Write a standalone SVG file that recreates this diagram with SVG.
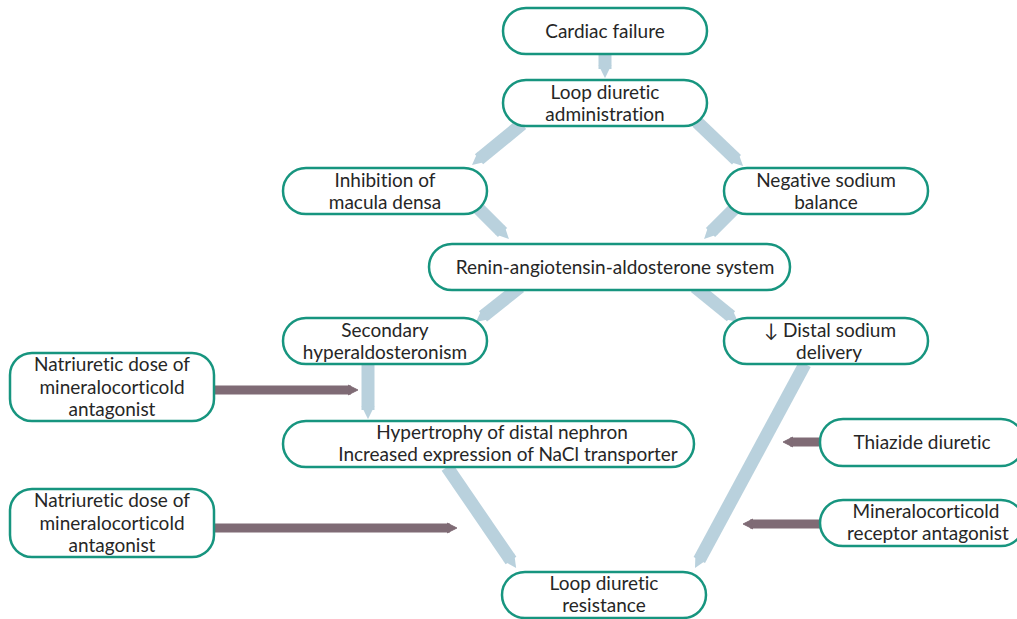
<svg xmlns="http://www.w3.org/2000/svg" width="1017" height="619" viewBox="0 0 1017 619">
<style>
.n rect{fill:#fff;stroke:#17957f;stroke-width:2.5}
.n text{font-family:Lato,"Open Sans",sans-serif;font-size:19px;fill:#262626;text-anchor:middle;font-variant-ligatures:none}
.b{stroke:#b9d1dd;stroke-width:13;fill:none;marker-end:url(#hb)}
.m{stroke:#7f6b75;stroke-width:9;fill:none;marker-end:url(#hm)}
</style>
<defs>
<marker id="hb" viewBox="0 0 10 10" refX="3" refY="5" markerWidth="1.0" markerHeight="2.3" orient="auto" markerUnits="strokeWidth"><path d="M0,0 L10,5 L0,10 z" fill="#b9d1dd"/></marker>
<marker id="hm" viewBox="0 0 10 10" refX="3" refY="5" markerWidth="1.1" markerHeight="1.8" orient="auto" markerUnits="strokeWidth"><path d="M0,0 L10,5 L0,10 L1,5 z" fill="#7f6b75" stroke="#7f6b75" stroke-width="1" stroke-linejoin="round"/></marker>
</defs>
<g id="connectors">
<line class="b" x1="605" y1="55" x2="605" y2="69"/>
<line class="b" x1="522" y1="124" x2="479" y2="159.3"/>
<line class="b" x1="697" y1="122" x2="736.5" y2="159.8"/>
<line class="b" x1="475" y1="205" x2="502.5" y2="232.5"/>
<line class="b" x1="738" y1="205" x2="710.5" y2="232.5"/>
<line class="b" x1="520" y1="287" x2="483" y2="316.4"/>
<line class="b" x1="695" y1="287" x2="731" y2="316.3"/>
<line class="b" x1="368" y1="364" x2="368" y2="410"/>
<line class="b" x1="447" y1="467" x2="511" y2="560.5"/>
<line class="b" x1="805" y1="364" x2="699.3" y2="560"/>
<line class="m" x1="214" y1="390" x2="351" y2="390"/>
<line class="m" x1="214" y1="528" x2="450" y2="528"/>
<line class="m" x1="820" y1="442" x2="790" y2="442"/>
<line class="m" x1="820" y1="524" x2="750" y2="524"/>
</g>
<g id="cardiac" class="n"><rect x="503" y="8" width="204" height="46" rx="23"/><text x="605" y="38">Cardiac failure</text></g>
<g id="loop" class="n"><rect x="503" y="80" width="204" height="46" rx="23"/><text x="605" y="99">Loop diuretic</text><text x="605" y="121">administration</text></g>
<g id="inhibition" class="n"><rect x="283" y="168" width="204" height="46" rx="23"/><text x="385" y="187">Inhibition of</text><text x="385" y="209">macula densa</text></g>
<g id="negative" class="n"><rect x="724" y="168" width="204" height="46" rx="23"/><text x="826" y="187">Negative sodium</text><text x="826" y="209">balance</text></g>
<g id="raas" class="n"><rect x="429" y="244" width="361" height="46" rx="23"/><text x="615" y="274">Renin-angiotensin-aldosterone system</text></g>
<g id="secondary" class="n"><rect x="283" y="318" width="204" height="46" rx="23"/><text x="385" y="337">Secondary</text><text x="385" y="359">hyperaldosteronism</text></g>
<g id="distal" class="n"><rect x="724" y="318" width="204" height="46" rx="23"/><text x="830" y="337">↓ Distal sodium</text><text x="829" y="359">delivery</text></g>
<g id="natriuretic1" class="n"><rect x="10" y="353" width="204" height="68" rx="22"/><text x="112" y="371">Natriuretic dose of</text><text x="112" y="394">mineralocorticold</text><text x="112" y="416">antagonist</text></g>
<g id="hypertrophy" class="n"><rect x="283" y="421" width="411" height="46" rx="23"/><text x="502" y="439">Hypertrophy of distal nephron</text><text x="508" y="461">Increased expression of NaCl transporter</text></g>
<g id="thiazide" class="n"><rect x="820" y="419" width="204" height="47" rx="23"/><text x="922" y="449">Thiazide diuretic</text></g>
<g id="mra" class="n"><rect x="820" y="500" width="204" height="46" rx="23"/><text x="926" y="518">Mineralocorticold</text><text x="928" y="540">receptor antagonist</text></g>
<g id="natriuretic2" class="n"><rect x="10" y="489" width="204" height="68" rx="22"/><text x="112" y="507">Natriuretic dose of</text><text x="112" y="530">mineralocorticold</text><text x="112" y="552">antagonist</text></g>
<g id="resistance" class="n"><rect x="502" y="572" width="204" height="46" rx="23"/><text x="604" y="590">Loop diuretic</text><text x="604" y="612">resistance</text></g>
</svg>
